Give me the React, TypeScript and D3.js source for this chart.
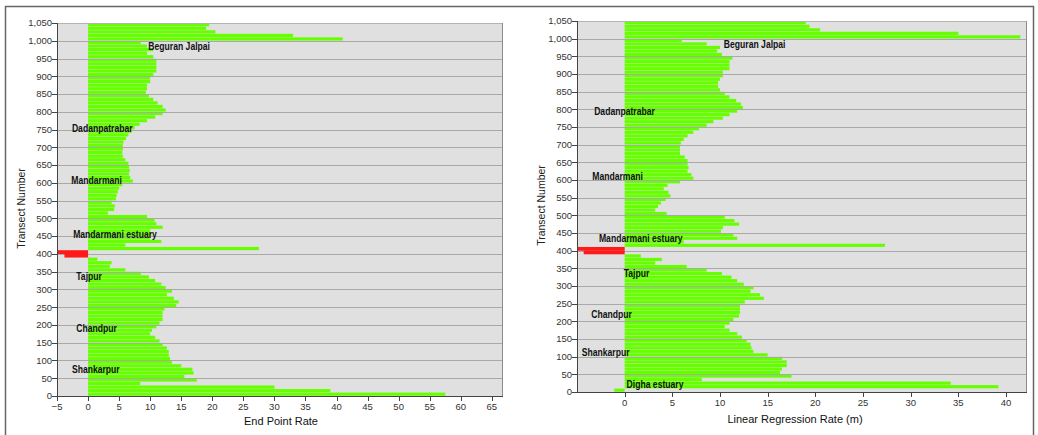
import React from 'react';
import * as d3 from 'd3';

// Transect band starts (each band covers 10 transects)
const transects = [
  0, 10, 20, 30, 40, 50, 60, 70, 80, 90,
  100, 110, 120, 130, 140, 150, 160, 170, 180, 190,
  200, 210, 220, 230, 240, 250, 260, 270, 280, 290,
  300, 310, 320, 330, 340, 350, 360, 370, 380, 390,
  400, 410, 420, 430, 440, 450, 460, 470, 480, 490,
  500, 510, 520, 530, 540, 550, 560, 570, 580, 590,
  600, 610, 620, 630, 640, 650, 660, 670, 680, 690,
  700, 710, 720, 730, 740, 750, 760, 770, 780, 790,
  800, 810, 820, 830, 840, 850, 860, 870, 880, 890,
  900, 910, 920, 930, 940, 950, 960, 970, 980, 990,
  1000, 1010, 1020, 1030, 1040,
];

// End Point Rate (left chart)
const eprValues = [
  57.5, 39, 30, 8.4, 17.5, 15.5, 17, 16.8, 15, 13.5,
  13.2, 13, 13, 12.7, 12, 11.5, 10.8, 10, 10.3, 11,
  11.5, 12, 12, 12, 12.3, 14.2, 14.6, 13.8, 12.7, 13.5,
  12.5, 11.8, 10.8, 9.8, 8.5, 6, 3.5, 3.8, 1.5, -3.8,
  -5.5, 27.5, 6, 11.8, 10, 10.2, 10, 12, 11, 10.7,
  9.5, 3.2, 4.2, 4.3, 3.8, 4.5, 4.6, 4.8, 5, 5.5,
  7.2, 6.8, 6.6, 6.7, 6.6, 6.5, 6, 5.6, 5.5, 5.6,
  5.6, 5.7, 6.1, 6.5, 7, 7.5, 8.3, 9.5, 10.8, 12,
  12.5, 12, 11.2, 10.5, 9.8, 9.3, 9.5, 9.5, 10, 10,
  10.5, 11, 11, 11, 11, 10.5, 9.5, 10.5, 9.5, 8.5,
  41, 33, 20.5, 19, 19.5,
];

// Linear Regression Rate (right chart)
const lrrValues = [
  -1.1, 39.2, 34.2, 8.1, 17.5, 16.3, 16.5, 17, 17, 16.5,
  15, 13.5, 13.3, 13.2, 12.8, 12.3, 11.8, 11, 10.5, 11,
  11.4, 12, 12.1, 12.1, 12.1, 12.6, 14.6, 14.2, 13.2, 13.5,
  12.5, 11.8, 11.2, 10.2, 8.6, 6.5, 3.2, 3.9, 1.7, -4.3,
  -5.3, 27.3, 6.2, 11.8, 11.4, 10.1, 10.3, 12, 11.5, 10.5,
  4.4, 3.2, 3.5, 3.8, 4.3, 4.8, 4.6, 4.1, 4.5, 5.8,
  7.2, 7, 6.6, 6.7, 6.6, 6.6, 6.3, 5.8, 5.8, 5.8,
  5.9, 6.2, 6.6, 7.2, 7.8, 8.6, 9.3, 10.3, 11, 11.8,
  12.4, 12.2, 11.7, 11, 10.5, 10, 9.8, 9.8, 10, 10.3,
  10.3, 11, 11, 11, 11.3, 10.2, 9.7, 10, 8.6, 6,
  41.5, 35, 20.5, 19.4, 19,
];

const yTicks = [0, 50, 100, 150, 200, 250, 300, 350, 400, 450, 500, 550, 600, 650, 700, 750, 800, 850, 900, 950, 1000, 1050];
const eprTicks = [-5, 0, 5, 10, 15, 20, 25, 30, 35, 40, 45, 50, 55, 60, 65];
const lrrTicks = [0, 5, 10, 15, 20, 25, 30, 35, 40];

const eprLabels = [
  { name: 'Beguran Jalpai', t: 985, v: 9.7 },
  { name: 'Dadanpatrabar', t: 754, v: -2.6 },
  { name: 'Mandarmani', t: 608, v: -2.7 },
  { name: 'Mandarmani estuary', t: 456, v: -2.4 },
  { name: 'Tajpur', t: 338, v: -1.9 },
  { name: 'Chandpur', t: 191, v: -1.9 },
  { name: 'Shankarpur', t: 76, v: -2.6 },
];
const lrrLabels = [
  { name: 'Beguran Jalpai', t: 985, v: 10.4 },
  { name: 'Dadanpatrabar', t: 795, v: -3.2 },
  { name: 'Mandarmani', t: 611, v: -3.4 },
  { name: 'Mandarmani estuary', t: 436, v: -2.7 },
  { name: 'Tajpur', t: 337, v: -0.1 },
  { name: 'Chandpur', t: 221, v: -3.5 },
  { name: 'Shankarpur', t: 113, v: -4.5 },
  { name: 'Digha estuary', t: 23, v: 0.2 },
];

const GREEN = '#66ff00';
const RED = '#ff1a1a';
const FONT = '"Liberation Sans", Arial, sans-serif';

type Lbl = { name: string; t: number; v: number };

function Panel(props: {
  left: number; right: number; top: number; bottom: number;
  xMax: number; values: number[]; xTicks: number[]; labels: Lbl[];
  xTitle: string; xTitleX: number; yTitleX: number; xTitleDy: number;
}) {
  const { left, right, top, bottom, xMax, values, xTicks, labels, xTitle, xTitleX, yTitleX, xTitleDy } = props;
  const x = d3.scaleLinear().domain([-5, xMax]).range([left, right]).clamp(true);
  const y = d3.scaleLinear().domain([0, 1050]).range([bottom, top]);
  const fmt = d3.format(',');
  const x0 = x(0);
  const bar = (t: number, v: number) => {
    const yTop = y(Math.min(t + 10, 1050));
    const yBot = y(t);
    const h = Math.max(0.5, yBot - yTop - 0.35);
    const xa = Math.min(x(v), x0);
    const w = Math.abs(x(v) - x0);
    return { x: xa, y: yTop + 0.15, w, h };
  };
  return (
    <g>
      <rect x={left} y={top} width={right - left} height={bottom - top} fill="#e0e0e0" />
      {transects.map((t, i) => {
        const v = values[i];
        if (v < -2) return null;
        const b = bar(t, v);
        return <rect key={t} x={b.x} y={b.y} width={b.w} height={b.h} fill={GREEN} />;
      })}
      {yTicks.map((t) => (
        <line key={'g' + t} x1={left} x2={right} y1={Math.round(y(t)) + 0.5} y2={Math.round(y(t)) + 0.5}
          stroke="#a9a9a9" strokeWidth={1} />
      ))}
      {transects.map((t, i) => {
        const v = values[i];
        if (v >= -2) return null;
        const b = bar(t, v);
        return <rect key={'r' + t} x={b.x} y={b.y - 0.3} width={b.w} height={b.h + 0.6} fill={RED} />;
      })}
      <line x1={left} x2={right} y1={top + 0.5} y2={top + 0.5} stroke="#b4b4b4" />
      <line x1={right - 0.5} x2={right - 0.5} y1={top} y2={bottom} stroke="#8c8c8c" />
      {labels.map((l) => (
        <text key={l.name} transform={`translate(${x(l.v)},${y(l.t)}) scale(0.82,1)`} dy="0.35em"
          fontFamily={FONT} fontWeight="bold" fontSize={10.5} fill="#111">{l.name}</text>
      ))}
      {/* y axis */}
      <line x1={left + 0.5} x2={left + 0.5} y1={top} y2={bottom} stroke="#444" />
      {yTicks.map((t) => (
        <g key={'y' + t}>
          <line x1={left - 5} x2={left} y1={Math.round(y(t)) + 0.5} y2={Math.round(y(t)) + 0.5} stroke="#444" />
          <text x={left - 5} y={y(t)} dy="0.35em" textAnchor="end" fontFamily={FONT}
            fontSize={9.5} fill="#333">{fmt(t)}</text>
        </g>
      ))}
      {/* x axis */}
      <line x1={left} x2={right} y1={bottom + 0.5} y2={bottom + 0.5} stroke="#444" />
      {xTicks.map((v) => (
        <g key={'x' + v}>
          <line x1={Math.round(x(v)) + 0.5} x2={Math.round(x(v)) + 0.5} y1={bottom} y2={bottom + 5} stroke="#444" />
          <text x={x(v)} y={bottom + 7} dy="0.71em" textAnchor="middle" fontFamily={FONT}
            fontSize={9.5} fill="#333">{fmt(v)}</text>
        </g>
      ))}
      <text x={xTitleX} y={bottom + xTitleDy} textAnchor="middle"
        fontFamily={FONT} fontSize={11} fill="#111">{xTitle}</text>
      <text transform={`translate(${yTitleX},${(top + bottom) / 2 - 1}) rotate(-90)`} dy="0.35em"
        textAnchor="middle" fontFamily={FONT} fontSize={10.5} fill="#222">Transect Number</text>
    </g>
  );
}

export default function App() {
  return (
    <svg width={1038} height={435} style={{ position: 'absolute', left: 0, top: 0, display: 'block', background: '#fff' }}>
      <rect x={0} y={0} width={1038} height={435} fill="#fff" />
      <Panel left={57} right={503} top={23} bottom={396} xMax={66.8} values={eprValues}
        xTicks={eprTicks} labels={eprLabels} xTitle="End Point Rate" xTitleX={281} yTitleX={21} xTitleDy={29} />
      <Panel left={577} right={1027} top={21} bottom={392} xMax={42.2} values={lrrValues}
        xTicks={lrrTicks} labels={lrrLabels} xTitle="Linear Regression Rate (m)" xTitleX={795} yTitleX={541} xTitleDy={31} />
      <path d="M5.5,435 L5.5,6.5 L1033.5,6.5 L1033.5,435" fill="none" stroke="#666" strokeWidth={1.5} />
    </svg>
  );
}
